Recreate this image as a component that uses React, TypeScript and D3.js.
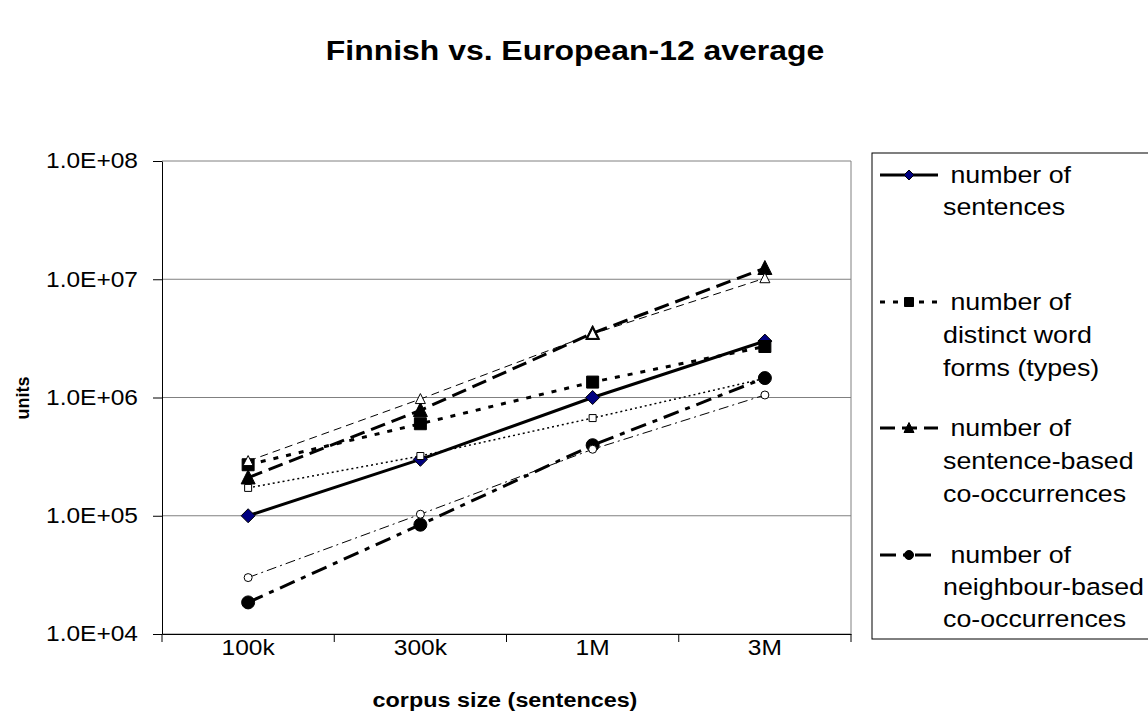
import React, { useRef, useEffect } from 'react';
import * as d3 from 'd3';

const categories = ['100k', '300k', '1M', '3M'];
const yTicks = [1e4, 1e5, 1e6, 1e7, 1e8];
const yTickLabels = ['1.0E+04', '1.0E+05', '1.0E+06', '1.0E+07', '1.0E+08'];

// Finnish
const sentences = [1e5, 3e5, 1e6, 3e6];
const types = [2.7e5, 6.0e5, 1.35e6, 2.7e6];
const sentenceCooc = [2.1e5, 7.8e5, 3.5e6, 1.24e7];
const neighbourCooc = [1.85e4, 8.4e4, 3.95e5, 1.46e6];

// European-12 average
const typesEu = [1.72e5, 3.2e5, 6.7e5, 1.45e6];
const sentenceCoocEu = [2.9e5, 9.7e5, 3.45e6, 1.02e7];
const neighbourCoocEu = [3.0e4, 1.03e5, 3.65e5, 1.05e6];

const legendLabels = [
  [' number of', 'sentences'],
  [' number of', 'distinct word', 'forms (types)'],
  [' number of', 'sentence-based', 'co-occurrences'],
  [' number of', 'neighbour-based', 'co-occurrences'],
];

const FONT = 'Arial, "Liberation Sans", sans-serif';
const SX = 1.14; // the original is a bit stretched sideways

const L = 162, R = 851, T = 161, B = 634;

// marker paths, centred on 0,0
const marker = (kind: string, r: number) => {
  if (kind === 'diamond') return `M0,${-r}L${r},0L0,${r}L${-r},0Z`;
  if (kind === 'square') return `M${-r},${-r}H${r}V${r}H${-r}Z`;
  if (kind === 'triangle') return `M0,${-r * 1.1}L${r},${r * 0.9}L${-r},${r * 0.9}Z`;
  return d3.arc()({ innerRadius: 0, outerRadius: r, startAngle: 0, endAngle: 2 * Math.PI } as any) as string;
};

const App = () => {
  const svgRef = useRef<SVGSVGElement>(null);

  useEffect(() => {
    const svg = d3.select(svgRef.current);
    svg.selectAll('*').remove();

    const x = d3.scaleBand<string>().domain(categories).range([L, R]);
    const y = d3.scaleLog().domain([1e4, 1e8]).range([B, T]);
    const cx = (c: string) => (x(c) as number) + x.bandwidth() / 2;

    const text = (tx: number, ty: number, str: string, size: number, weight = 'normal', anchor = 'middle') =>
      svg
        .append('text')
        .attr('transform', `translate(${tx},${ty}) scale(${SX},1)`)
        .attr('font-family', FONT)
        .attr('font-size', size)
        .attr('font-weight', weight)
        .attr('text-anchor', anchor)
        .style('white-space', 'pre')
        .text(str);

    // titles
    text(575, 60, 'Finnish vs. European-12 average', 28, 'bold');
    text(505, 707, 'corpus size (sentences)', 20.5, 'bold');
    svg
      .append('text')
      .attr('transform', `translate(29,398) rotate(-90)`)
      .attr('font-family', FONT)
      .attr('font-size', 18)
      .attr('font-weight', 'bold')
      .attr('text-anchor', 'middle')
      .text('units');

    // gridlines + right border
    svg
      .append('g')
      .selectAll('line')
      .data(yTicks)
      .join('line')
      .attr('x1', L)
      .attr('x2', R)
      .attr('y1', (d) => y(d))
      .attr('y2', (d) => y(d))
      .attr('stroke', '#808080');
    svg.append('line').attr('x1', R).attr('x2', R).attr('y1', T).attr('y2', B).attr('stroke', '#808080');

    // y axis
    const yAxis = svg
      .append('g')
      .attr('transform', `translate(${L},0)`)
      .call(
        d3
          .axisLeft(y)
          .tickValues(yTicks)
          .tickFormat((d, i) => yTickLabels[i])
          .tickSize(9)
          .tickSizeOuter(0)
      );
    yAxis.select('.domain').attr('stroke', '#000');
    yAxis
      .selectAll('text')
      .attr('x', -24 / SX)
      .attr('transform', `scale(${SX},1)`)
      .attr('font-family', FONT)
      .attr('font-size', 21.5)
      .attr('fill', '#000');

    // x axis: labels at band centres, ticks at band edges
    const xAxis = svg
      .append('g')
      .attr('transform', `translate(0,${B})`)
      .call(d3.axisBottom(x).tickSize(0).tickSizeOuter(0));
    xAxis.select('.domain').attr('stroke', '#000');
    xAxis
      .selectAll('text')
      .attr('y', 21)
      .attr('dy', 0)
      .attr('transform', `scale(${SX},1)`)
      .attr('font-family', FONT)
      .attr('font-size', 21.5)
      .attr('fill', '#000');
    const edges = [...categories.map((c) => x(c) as number), R];
    svg
      .append('g')
      .selectAll('line')
      .data(edges)
      .join('line')
      .attr('x1', (d) => d)
      .attr('x2', (d) => d)
      .attr('y1', B)
      .attr('y2', B + 8)
      .attr('stroke', '#000');

    const series = [
      { v: sentences, w: 3, dash: null, kind: 'diamond', r: 7, fill: '#000080', stroke: '#000' },
      { v: types, w: 3, dash: '5,8', kind: 'square', r: 6, fill: '#000', stroke: '#000' },
      { v: typesEu, w: 1.5, dash: '2,3', kind: 'square', r: 3.5, fill: '#fff', stroke: '#000' },
      { v: sentenceCooc, w: 3, dash: '15,7', kind: 'triangle', r: 7, fill: '#000', stroke: '#000' },
      { v: sentenceCoocEu, w: 1, dash: '8,5', kind: 'triangle', r: 5, fill: '#fff', stroke: '#000' },
      { v: neighbourCooc, w: 3, dash: '16,7,5,7', kind: 'circle', r: 6.5, fill: '#000', stroke: '#000' },
      { v: neighbourCoocEu, w: 1, dash: '10,4,2,4', kind: 'circle', r: 4, fill: '#fff', stroke: '#000' },
    ];

    const line = d3
      .line<number>()
      .x((d, i) => cx(categories[i]))
      .y((d) => y(d));

    series.forEach((s) => {
      svg
        .append('path')
        .attr('d', line(s.v))
        .attr('fill', 'none')
        .attr('stroke', '#000')
        .attr('stroke-width', s.w)
        .attr('stroke-dasharray', s.dash);
      svg
        .append('g')
        .selectAll('path')
        .data(s.v)
        .join('path')
        .attr('transform', (d, i) => `translate(${cx(categories[i])},${y(d)})`)
        .attr('d', marker(s.kind, s.r))
        .attr('fill', s.fill)
        .attr('stroke', s.stroke)
        .attr('stroke-width', 1);
    });

    // legend
    const lg = svg.append('g');
    lg.append('rect')
      .attr('x', 872)
      .attr('y', 153)
      .attr('width', 300)
      .attr('height', 486)
      .attr('fill', '#fff')
      .attr('stroke', '#000');
    const legendItems = [
      { ...series[0], ly: 175, r: 5 },
      { ...series[1], ly: 302, r: 4.5 },
      { ...series[3], ly: 428, r: 5 },
      { ...series[5], ly: 555, r: 4.5 },
    ];
    const lineStep = [32, 33, 33, 32];
    legendItems.forEach((it, k) => {
      lg.append('line')
        .attr('x1', 880)
        .attr('x2', 938)
        .attr('y1', it.ly)
        .attr('y2', it.ly)
        .attr('stroke', '#000')
        .attr('stroke-width', 3)
        .attr('stroke-dasharray', it.dash);
      lg.append('path')
        .attr('transform', `translate(909,${it.ly})`)
        .attr('d', marker(it.kind, it.r))
        .attr('fill', it.fill)
        .attr('stroke', '#000')
        .attr('stroke-width', 1);
      legendLabels[k].forEach((str, j) => {
        text(943, it.ly + 8 + j * lineStep[k], str, 23.5, 'normal', 'start');
      });
    });
  }, []);

  return (
    <div style={{ position: 'absolute', left: 0, top: 0 }}>
      <svg ref={svgRef} width={1148} height={727} style={{ display: 'block', background: '#fff' }}></svg>
    </div>
  );
};

export default App;
